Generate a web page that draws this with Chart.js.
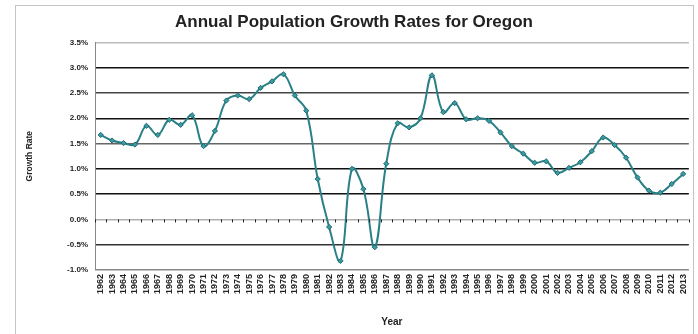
<!DOCTYPE html>
<html>
<head>
<meta charset="utf-8">
<script src="https://cdn.jsdelivr.net/npm/chart.js@4/dist/chart.umd.min.js"></script>
<style>
  body { margin: 0; background: #fff; }
  #wrap { width: 698px; height: 334px; }
</style>
</head>
<body>
<div id="wrap"><canvas id="myChart" width="698" height="334"></canvas></div>
<script>
// years on the x axis
const years = [];
for (let y = 1962; y <= 2013; y++) years.push(String(y));

// annual growth rate, percent
const growthRate = [
  1.67, 1.56, 1.51, 1.48, 1.85, 1.67, 1.97, 1.87, 2.06, 1.45,
  1.75, 2.35, 2.45, 2.38, 2.60, 2.73, 2.87, 2.45, 2.15, 0.80,
  -0.15, -0.82, 1.00, 0.60, -0.55, 1.10, 1.90, 1.82, 2.00, 2.85,
  2.12, 2.30, 1.98, 2.00, 1.95, 1.72, 1.45, 1.30, 1.12, 1.15,
  0.92, 1.02, 1.13, 1.35, 1.62, 1.47, 1.22, 0.83, 0.57, 0.53,
  0.70, 0.90
];

const yMin = -1.0;
const yMax = 3.5;
const yStep = 0.5;

// gridline colours, keyed by the tick value
const gridColors = {
  "3.5": "#bbbbbb", "3.0": "#111111", "2.5": "#444444", "2.0": "#111111",
  "1.5": "#666666", "1.0": "#111111", "0.5": "#111111", "0.0": "#b0b0b0",
  "-0.5": "#333333", "-1.0": "#888888"
};

// outer frame + tiny tick marks along the 0% line (like the Excel axis)
const framePlugin = {
  id: "frame",
  beforeDraw(chart) {
    const ctx = chart.ctx;
    ctx.save();
    ctx.strokeStyle = "#c4c4c4";
    ctx.lineWidth = 1;
    ctx.strokeRect(15.5, 5.5, 678, 340);
    ctx.restore();
  },
  afterDatasetsDraw(chart) {
    const ctx = chart.ctx;
    const x = chart.scales.x;
    const yZero = chart.scales.y.getPixelForValue(0);
    ctx.save();
    ctx.strokeStyle = "#222";
    ctx.lineWidth = 1;
    for (let i = 0; i <= years.length; i++) {
      const px = Math.round(x.left + i * (x.width / years.length)) + 0.5;
      ctx.beginPath();
      ctx.moveTo(px, yZero);
      ctx.lineTo(px, yZero + 3);
      ctx.stroke();
    }
    ctx.restore();
  }
};

const ctx = document.getElementById("myChart").getContext("2d");
const myChart = new Chart(ctx, {
  type: "line",
  data: {
    labels: years,
    datasets: [{
      label: "Growth Rate",
      data: growthRate,
      borderColor: "#2a8087",
      backgroundColor: "#3a9ca3",
      pointBorderColor: "#1f6a70",
      borderWidth: 2,
      pointStyle: "rectRot",
      pointRadius: 2.6,
      pointBorderWidth: 1,
      tension: 0.4,
      fill: false
    }]
  },
  options: {
    responsive: false,
    animation: false,
    layout: { padding: { left: 15, right: 5, top: 0, bottom: 4 } },
    plugins: {
      legend: { display: false },
      tooltip: { enabled: false },
      title: {
        display: true,
        text: "Annual Population Growth Rates for Oregon",
        color: "#222",
        font: { family: "Liberation Sans", size: 17, weight: "bold" },
        padding: { top: 12, bottom: 10 }
      }
    },
    scales: {
      x: {
        offset: true,
        grid: { display: false, drawTicks: false },
        border: { display: false },
        ticks: {
          autoSkip: false,
          maxRotation: 90,
          minRotation: 90,
          padding: 4,
          color: "#222",
          font: { family: "Liberation Sans", size: 9, weight: "bold" }
        },
        title: {
          display: true,
          text: "Year",
          color: "#222",
          font: { family: "Liberation Sans", size: 10, weight: "bold" },
          padding: { top: 6, bottom: 2 }
        },
        afterFit(scale) { scale.height = 60; }
      },
      y: {
        min: yMin,
        max: yMax,
        grid: {
          drawTicks: false,
          lineWidth: 1.5,
          color: c => gridColors[c.tick.value.toFixed(1)] || "#444"
        },
        border: { display: true, color: "#888", width: 1 },
        ticks: {
          stepSize: yStep,
          padding: 7,
          color: "#222",
          font: { family: "Liberation Sans", size: 8, weight: "bold" },
          callback: v => v.toFixed(1) + "%"
        },
        title: {
          display: true,
          text: "Growth Rate",
          color: "#222",
          font: { family: "Liberation Sans", size: 8.5, weight: "bold" },
          padding: { top: 10, bottom: 16 }
        },
        afterFit(scale) { scale.width = 80; }
      }
    }
  },
  plugins: [framePlugin]
});
</script>
</body>
</html>
